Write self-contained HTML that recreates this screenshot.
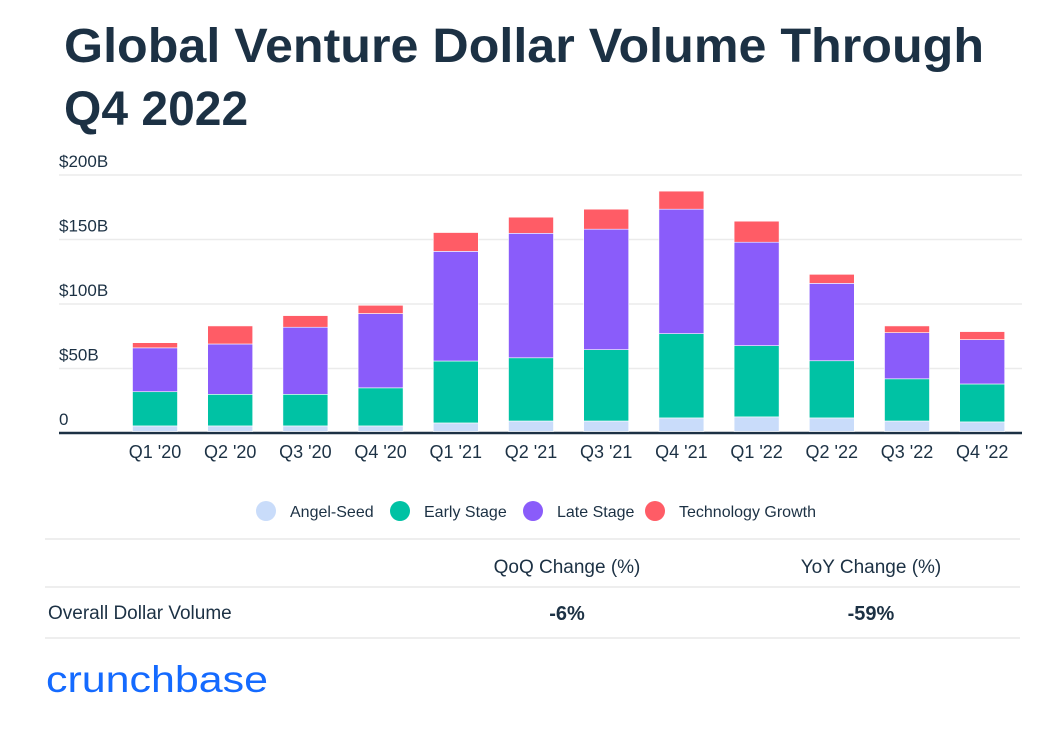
<!DOCTYPE html>
<html><head><meta charset="utf-8"><style>
html,body{margin:0;padding:0;background:#fff;}
svg{display:block;font-family:"Liberation Sans",sans-serif;}
</style></head><body>
<svg id="c" width="1048" height="743" viewBox="0 0 1048 743">
<text x="64" y="62" font-size="48" font-weight="bold" fill="#1c3144" textLength="920" lengthAdjust="spacingAndGlyphs">Global Venture Dollar Volume Through</text>
<text x="64" y="125" font-size="48" font-weight="bold" fill="#1c3144">Q4 2022</text>
<g id="grid"></g>
<g id="bars"></g>
<g id="xlabels"></g>
<g id="legend"></g>
<g>
<line x1="45" y1="539" x2="1020" y2="539" stroke="#e8e8e8" stroke-width="1.5"/>
<line x1="45" y1="587" x2="1020" y2="587" stroke="#e8e8e8" stroke-width="1.5"/>
<line x1="45" y1="638" x2="1020" y2="638" stroke="#e8e8e8" stroke-width="1.5"/>
<text x="567" y="573" font-size="19" fill="#1c3144" text-anchor="middle">QoQ Change (%)</text>
<text x="871" y="573" font-size="19" fill="#1c3144" text-anchor="middle">YoY Change (%)</text>
<text x="48" y="619" font-size="19" fill="#1c3144">Overall Dollar Volume</text>
<text x="567" y="620" font-size="20" font-weight="bold" fill="#1c3144" text-anchor="middle">-6%</text>
<text x="871" y="620" font-size="20" font-weight="bold" fill="#1c3144" text-anchor="middle">-59%</text>
</g>
<text x="46" y="692" font-size="37" fill="#146aff" textLength="222" lengthAdjust="spacingAndGlyphs">crunchbase</text>
</svg>
<script>
const categories=["Q1 '20","Q2 '20","Q3 '20","Q4 '20","Q1 '21","Q2 '21","Q3 '21","Q4 '21","Q1 '22","Q2 '22","Q3 '22","Q4 '22"];
const angelSeed=[5.5,5.5,5.5,5.5,7.8,9.3,9.3,11.7,12.5,11.7,9.3,8.6];
const earlyStage=[26.5,24.5,24.5,29.5,48,49,55.3,65.3,55.2,44.3,32.7,29.4];
const lateStage=[34,39,52,57.6,85,96.5,93.4,96.5,80.2,60,35.8,34.4];
const techGrowth=[4,14,9,6.4,14.6,12.5,15.5,14,16.3,7,5.2,6.2];
const yTicks=[0,50,100,150,200];
const yTickLabels=["0","$50B","$100B","$150B","$200B"];
const seriesNames=["Angel-Seed","Early Stage","Late Stage","Technology Growth"];
const colors=["#c9dcfa","#00c2a4","#8a5cfa","#ff5c66"];
const NS="http://www.w3.org/2000/svg";
const y0=433,pxPer=(433-175)/200;
const y=v=>y0-v*pxPer;
const x=i=>155+i*75.2;
function mk(tag,attrs,parent,txt){const e=document.createElementNS(NS,tag);for(const k in attrs)e.setAttribute(k,attrs[k]);if(txt!==undefined)e.textContent=txt;parent.appendChild(e);return e;}
const grid=document.getElementById('grid');
yTicks.forEach((t,i)=>{
  if(t>0){const l=mk('line',{x1:59,x2:1022,y1:y(t),y2:y(t),stroke:'#ebebeb','stroke-width':1.5},grid);
  
  }
  const tx=mk('text',{x:59,y:y(t)-8,'font-size':17,fill:'#1c3144'},grid,yTickLabels[i]);
  
  
});
const ax=mk('line',{x1:59,x2:1022,y1:y0,y2:y0,stroke:'#1c3144','stroke-width':2.5},grid);


const bars=document.getElementById('bars');
const series=[angelSeed,earlyStage,lateStage,techGrowth];
categories.forEach((c,i)=>{
  let base=0;
  series.forEach((s,k)=>{
    const top=base+s[i];
    const r=mk('rect',{x:x(i)-22.5,y:y(top),width:45,height:y(base)-y(top)-(base===0?1.5:0),fill:colors[k],stroke:'#fff','stroke-width':0.6},bars);
    
    
    base=top;
  });
  const t=mk('text',{x:x(i),y:458,'font-size':18,fill:'#1c3144','text-anchor':'middle'},document.getElementById('xlabels'),c);
  
  
});
const lg=document.getElementById('legend');
const lx=[266,400,533,655];
seriesNames.forEach((n,k)=>{
  const g=mk('g',{},lg);
  
  
  mk('circle',{cx:lx[k],cy:511,r:10,fill:colors[k]},g);
  mk('text',{x:lx[k]+24,y:517,'font-size':16,fill:'#1c3144'},g,n);
});
</script>
</body></html>
